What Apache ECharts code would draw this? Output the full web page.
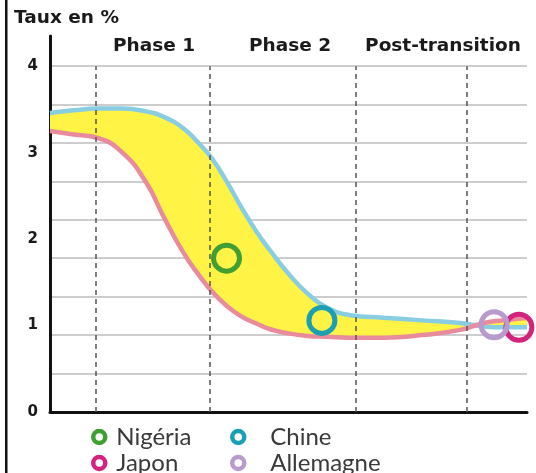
<!DOCTYPE html>
<html>
<head>
<meta charset="utf-8">
<script src="https://cdn.jsdelivr.net/npm/echarts@6/dist/echarts.min.js"></script>
<style>html,body{margin:0;padding:0;background:#fff;}#c{width:536px;height:473px;}</style>
</head>
<body>
<div id="c"></div>
<script>
// x positions (arbitrary time units 0-100)
const xs = [0, 5, 10, 15, 20, 24, 28, 31, 34, 37, 40, 43, 46, 50, 54, 58, 63, 70, 78, 86, 91, 95, 100];
// upper (blue) curve, Taux en %
const upperVals = [3.46, 3.49, 3.51, 3.51, 3.48, 3.41, 3.28, 3.12, 2.93, 2.67, 2.38, 2.11, 1.88, 1.60, 1.37, 1.21, 1.12, 1.09, 1.06, 1.03, 0.99, 0.98, 0.98];
// lower (pink) curve, Taux en %
const lowerVals = [3.25, 3.21, 3.17, 3.01, 2.67, 2.24, 1.84, 1.60, 1.39, 1.23, 1.11, 1.03, 0.96, 0.91, 0.88, 0.87, 0.86, 0.86, 0.89, 0.95, 1.03, 1.06, 1.09];
// phase boundaries (dashed lines) and labels
const phaseBounds = [9.6, 33.5, 64.2, 87.4];
const phaseLabels = ['Phase 1', 'Phase 2', 'Post-transition'];
// countries
const countries = ['Nigéria', 'Japon', 'Chine', 'Allemagne'];
const countryX = [37.0, 98.3, 57.0, 93.1];
const countryY = [1.78, 0.98, 1.06, 1.01];
const countryColors = ['#3f9f33', '#d4237f', '#1b9fb2', '#b89bcc'];
const yTicks = [0, 1, 2, 3, 4];

const chart = echarts.init(document.getElementById('c'));
const pair = (arr) => xs.map((x, i) => [x, arr[i]]);
// for stacking, put the value first so it is the stacked dimension
const pairYX = (arr) => xs.map((x, i) => [arr[i], x]);
const bandVals = xs.map((x, i) => +(upperVals[i] - lowerVals[i]).toFixed(3));
const SMOOTH = 0.5;

const scatterSeries = countries.map((name, i) => ({
  name: name,
  type: 'scatter',
  data: [[countryX[i], countryY[i]]],
  symbol: 'circle',
  symbolSize: 26,
  clip: false,
  z: 10,
  itemStyle: { color: 'rgba(0,0,0,0)', borderColor: countryColors[i], borderWidth: 5, opacity: 1 }
}));

const legendBox = (i, left, top, pad) => ({
  data: [{ name: countries[i], itemStyle: { color: 'rgba(0,0,0,0)', borderColor: countryColors[i], borderWidth: 4.5 } }],
  orient: 'horizontal', left: left, top: top, padding: 0,
  itemWidth: 12, itemHeight: 12, icon: 'circle',
  textStyle: { fontFamily: 'Lato', fontSize: 24, color: '#3a3a3a', padding: [0, 0, 0, pad] }
});

const txt = (x, y, s, align) => ({
  type: 'text', z: 100,
  style: { x: x, y: y, text: s, fill: '#1a1a1a', font: 'bold 18.5px "DejaVu Sans"', textAlign: align, textVerticalAlign: 'middle' }
});

const option = {
  animation: false,
  backgroundColor: '#fff',
  grid: { left: 50, right: 9, top: 36, bottom: 61, containLabel: false },
  xAxis: {
    type: 'value', min: 0, max: 100,
    axisLine: { show: true, lineStyle: { color: '#111', width: 3 } },
    axisTick: { show: false }, axisLabel: { show: false }, splitLine: { show: false }
  },
  yAxis: [
    {
      type: 'value', min: 0, max: 4.35, interval: 1,
      axisLine: { show: true, lineStyle: { color: '#111', width: 3 } },
      axisTick: { show: false },
      splitLine: { show: false },
      axisLabel: {
        showMaxLabel: false, margin: 12,
        color: '#1a1a1a', fontFamily: 'DejaVu Sans', fontWeight: 'bold', fontSize: 15,
        formatter: (v) => (yTicks.indexOf(v) >= 0 ? String(v) : '')
      }
    },
    {
      type: 'value', min: 0, max: 9.78, interval: 1,
      axisLine: { show: false }, axisTick: { show: false }, axisLabel: { show: false },
      splitLine: { show: true, showMinLine: false, showMaxLine: false, lineStyle: { color: '#bcbcbc', width: 1.5 } }
    }
  ],
  legend: [
    legendBox(0, 91, 425, 6),
    legendBox(1, 91, 451, 6),
    legendBox(2, 230, 425, 21),
    legendBox(3, 230, 451, 21)
  ],
  graphic: [
    { type: 'rect', z: 100, shape: { x: 5, y: 0, width: 2.5, height: 473 }, style: { fill: '#111' } },
    txt(14, 18, 'Taux en %', 'left'),
    txt(154, 46, phaseLabels[0], 'center'),
    txt(290, 46, phaseLabels[1], 'center'),
    txt(443, 46, phaseLabels[2], 'center')
  ],
  series: [
    {
      name: 'base', type: 'line', stack: 'band', stackStrategy: 'all',
      data: pairYX(lowerVals), encode: { x: 1, y: 0 }, smooth: SMOOTH, symbol: 'none',
      lineStyle: { width: 0, opacity: 0 }, z: 1, silent: true,
      markLine: {
        silent: true, symbol: 'none', label: { show: false },
        lineStyle: { type: [5, 4], color: '#555', width: 1.5 },
        data: phaseBounds.map((b) => [{ coord: [b, 0] }, { coord: [b, 4] }])
      }
    },
    {
      name: 'bande', type: 'line', stack: 'band', stackStrategy: 'all',
      data: pairYX(bandVals), encode: { x: 1, y: 0 }, smooth: SMOOTH, symbol: 'none',
      lineStyle: { width: 0, opacity: 0 },
      areaStyle: { color: '#fff346', opacity: 1 }, z: 2, silent: true
    },
    {
      name: 'haut', type: 'line', data: pair(upperVals), smooth: SMOOTH, symbol: 'none',
      lineStyle: { color: '#88cde2', width: 4.5 }, z: 3, silent: true
    },
    {
      name: 'bas', type: 'line', data: pair(lowerVals), smooth: SMOOTH, symbol: 'none',
      lineStyle: { color: '#e98a9d', width: 4.5 }, z: 3, silent: true
    }
  ].concat(scatterSeries)
};
chart.setOption(option);
</script>
</body>
</html>
